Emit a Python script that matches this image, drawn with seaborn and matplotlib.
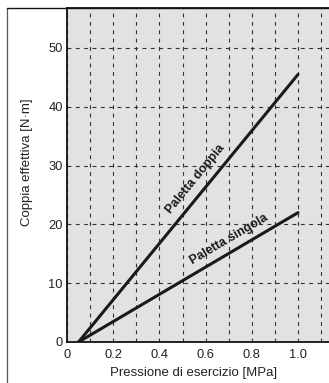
import numpy as np
import pandas as pd
import matplotlib
matplotlib.use('Agg')
import matplotlib.pyplot as plt
import seaborn as sns
from matplotlib.lines import Line2D
from matplotlib.ticker import MultipleLocator

# ---- data ----
pressione = [0.05, 1.0]            # MPa
coppia_doppia = [0.0, 45.5]        # N·m
coppia_singola = [0.0, 22.0]       # N·m
series_names = ['Paletta doppia', 'Paletta singola']
x_ticks = [0, 0.2, 0.4, 0.6, 0.8, 1.0]
x_tick_labels = ['0', '0.2', '0.4', '0.6', '0.8', '1.0']
y_ticks = [0, 10, 20, 30, 40, 50]

df = pd.DataFrame({
    'pressione': pressione * 2,
    'coppia': coppia_doppia + coppia_singola,
    'serie': [series_names[0]] * 2 + [series_names[1]] * 2,
})

sns.set_style('white')
plt.rcParams['font.family'] = ['Liberation Sans', 'DejaVu Sans']

fig = plt.figure(figsize=(3.29, 3.83), dpi=100)
ax = fig.add_axes([67 / 329, 41 / 383, 262 / 329, 334 / 383])
ax.set_facecolor('#e2e2e2')

sns.lineplot(data=df, x='pressione', y='coppia', hue='serie',
             palette=['#1a1a1a', '#1a1a1a'], linewidth=2.2, legend=False, ax=ax)

ax.set_xlim(0, 262 / 231)
ax.set_ylim(0, 334 / 5.88)

ax.set_xticks(x_ticks)
ax.set_xticklabels(x_tick_labels)
ax.xaxis.set_minor_locator(MultipleLocator(0.1))
ax.set_yticks(y_ticks)
ax.tick_params(axis='both', which='both', length=0, labelsize=9.3, colors='#222222')
ax.tick_params(axis='x', pad=5)
ax.tick_params(axis='y', pad=3)

grid_kw = dict(color='#333333', linewidth=0.8, linestyle=(0, (3.5, 4)))
ax.grid(True, axis='x', which='both', **grid_kw)
ax.grid(True, axis='y', which='major', **grid_kw)
ax.set_axisbelow(True)

for side in ['left', 'bottom', 'top']:
    ax.spines[side].set_visible(True)
    ax.spines[side].set_color('#111111')
    ax.spines[side].set_linewidth(1.3)
ax.spines['right'].set_visible(False)

ax.set_xlabel('Pressione di esercizio [MPa]', fontsize=9.5, color='#222222', va='center')
ax.set_ylabel('Coppia effettiva [N·m]', fontsize=9.5, color='#222222', va='center')
ax.xaxis.set_label_coords(0.483, -0.093)
ax.yaxis.set_label_coords(-0.153, 0.539)

# labels along the lines, angle taken from each line's slope
for name, ys, (tx, ty) in [(series_names[0], coppia_doppia, (0.555, 27.7)),
                           (series_names[1], coppia_singola, (0.70, 17.5))]:
    slope = (ys[1] - ys[0]) / (pressione[1] - pressione[0])
    ax.text(tx, ty, name, fontsize=9, fontweight='bold', color='#1a1a1a',
            ha='center', va='center', rotation=np.degrees(np.arctan(slope)),
            transform_rotates_text=True, rotation_mode='anchor')

# outer frame of the picture
fig.add_artist(Line2D([7 / 329, 7 / 329], [0, 1 - 8 / 383], color='#555555', lw=0.9))
fig.add_artist(Line2D([7 / 329, 1], [1 - 8 / 383, 1 - 8 / 383], color='#111111', lw=1.0))

fig.savefig('out.png', dpi=100)
